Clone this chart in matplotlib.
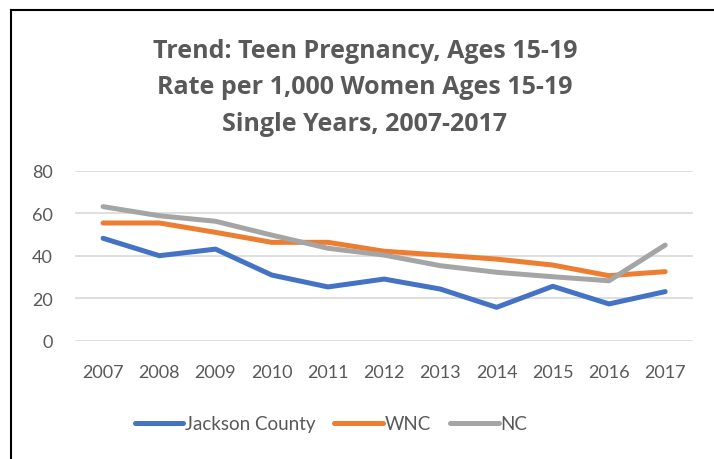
import matplotlib
matplotlib.use('Agg')
import matplotlib.pyplot as plt
from matplotlib.lines import Line2D

plt.rcParams['font.family'] = ['Lato', 'DejaVu Sans']

years = ['2007', '2008', '2009', '2010', '2011', '2012',
         '2013', '2014', '2015', '2016', '2017']
jackson = [48.2, 40.0, 43.1, 30.9, 25.3, 29.0, 24.3, 15.7, 25.6, 17.3, 23.1]
wnc = [55.4, 55.4, 51.0, 46.3, 46.3, 42.1, 40.3, 38.4, 35.6, 30.6, 32.5]
nc = [63.1, 58.8, 56.2, 49.7, 43.5, 40.3, 35.3, 32.2, 30.1, 28.2, 45.0]

series_names = ['Jackson County', 'WNC', 'NC']
series_colors = ['#4472C4', '#ED7D31', '#A5A5A5']
text_color = '#595959'

fig = plt.figure(figsize=(7.14, 4.6), dpi=100)
ax = fig.add_axes([0.105, 0.2572, 0.866, 0.3695])

x = range(len(years))
for vals, name, col in zip([jackson, wnc, nc], series_names, series_colors):
    ax.plot(x, vals, color=col, linewidth=3.6, label=name,
            solid_capstyle='round', solid_joinstyle='round')

ax.set_xlim(-0.5, len(years) - 0.5)
ax.set_ylim(0, 80)
ax.set_yticks([0, 20, 40, 60, 80])
ax.set_xticks(list(x))
ax.set_xticklabels(years)
ax.grid(axis='y', color='#D9D9D9', linewidth=1.2)
ax.set_axisbelow(True)
for s in ax.spines.values():
    s.set_visible(False)
ax.tick_params(axis='both', length=0, labelsize=13, colors=text_color)
ax.tick_params(axis='x', pad=17)
ax.tick_params(axis='y', pad=16)

fig.text(0.511, 1 - 88 / 460,
         'Trend: Teen Pregnancy, Ages 15-19\nRate per 1,000 Women Ages 15-19\nSingle Years, 2007-2017',
         ha='center', va='center', fontsize=18, fontweight='bold',
         family=['Open Sans', 'DejaVu Sans'],
         color=text_color, linespacing=1.62)

leg = ax.legend(loc='center', ncol=3, frameon=False, fontsize=13.5,
                handlelength=2.6, handletextpad=0.1, columnspacing=1.0,
                labelcolor=text_color)
leg.set_bbox_to_anchor((331 / 714, 1 - 425 / 460), transform=fig.transFigure)

# chart frame edges (top and left) as in the source screenshot
fig.add_artist(Line2D([11 / 714, 1], [1 - 10.5 / 460, 1 - 10.5 / 460],
                      transform=fig.transFigure, color='black', linewidth=1.5))
fig.add_artist(Line2D([11.5 / 714, 11.5 / 714], [0, 1 - 10.5 / 460],
                      transform=fig.transFigure, color='black', linewidth=1.5))

fig.savefig('out.png', dpi=100)
